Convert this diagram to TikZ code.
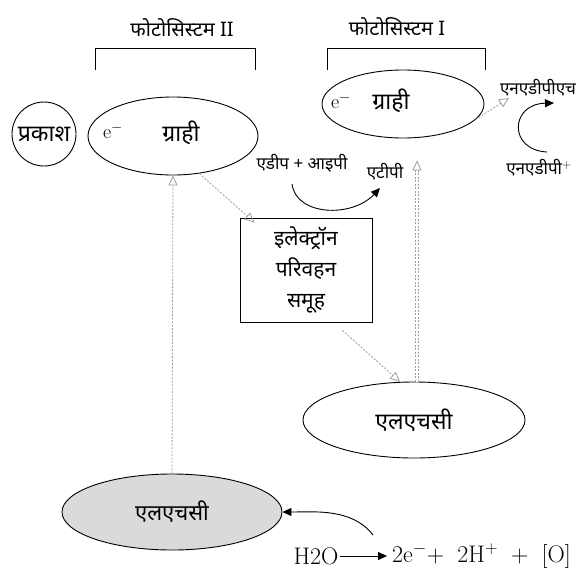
\documentclass[tikz,border=0pt]{standalone}
\usepackage{fontspec}
\usepackage{tikz}
\usetikzlibrary{arrows.meta,positioning,calc,shapes.geometric}
\newfontfamily\hindi[Script=Devanagari]{Noto Sans}
\definecolor{Faint}{HTML}{9C9C9C}
\definecolor{Shade}{HTML}{DADADA}

\begin{document}
\begin{tikzpicture}[x=1pt,y=-1pt,
  oval/.style={draw,ellipse,line width=0.9pt,inner sep=0pt},
  hi/.style={font=\hindi\fontsize{17}{19}\selectfont,inner sep=1pt},
  big/.style={font=\hindi\fontsize{23}{25}\selectfont,inner sep=1pt},
  latin/.style={font=\fontsize{24}{26}\selectfont,inner sep=1pt},
  solidarrow/.style={-{Triangle[length=9pt,width=8pt]},line width=0.9pt},
  faint/.style={draw=Faint,dash pattern=on 2pt off 1.5pt,line width=0.8pt,
    -{Triangle[open,length=10pt,width=9pt]}}]
  \useasboundingbox (0,0) rectangle (581,568);

  \node[hi,font=\hindi\fontsize{20}{22}\selectfont] (ps2title) at (182,28) {फोटोसिस्टम II};
  \node[hi,font=\hindi\fontsize{20}{22}\selectfont] (ps1title) at (397,27) {फोटोसिस्टम I};
  \draw[line width=0.9pt] (95,70) -- (95,48) -- (255,48) -- (255,70);
  \draw[line width=0.9pt] (327,70) -- (327,48) -- (485,48) -- (485,70);

  \node[draw,circle,line width=0.9pt,minimum size=64pt,inner sep=0pt,big] (light) at (44,134) {प्रकाश};
  \node[oval,minimum width=170pt,minimum height=78pt] (ps2) at (173,136) {};
  \node[font=\fontsize{20}{22}\selectfont] (ps2e) at (113,131) {e$^-$};
  \node[big] (ps2acc) at (181,133) {ग्राही};
  \node[oval,minimum width=162pt,minimum height=68pt] (ps1) at (403,104) {};
  \node[font=\fontsize{20}{22}\selectfont] (ps1e) at (341,101) {e$^-$};
  \node[big] (ps1acc) at (391,101) {ग्राही};

  \node[hi] (adp) at (302,163) {एडीप + आइपी};
  \node[hi] (atp) at (385,172) {एटीपी};
  \draw[solidarrow] (292,184) .. controls (296,216) and (352,218) .. (380,188);

  \node[hi] (nadph) at (538,88) {एनएडीपीएच};
  \node[hi] (nadp) at (539,168) {एनएडीपी$^+$};
  \draw[solidarrow] (547,152) .. controls (508,150) and (510,104) .. (554,103);
  \coordinate (nadphin) at (509,98);

  \node[draw,line width=0.9pt,minimum width=132pt,minimum height=104pt,
    align=center,font=\hindi\fontsize{21}{31}\selectfont,inner sep=1pt] (etc) at (306,270)
    {इलेक्ट्रॉन\\परिवहन\\समूह};

  \node[oval,minimum width=222pt,minimum height=76pt,big] (lhc1) at (414,420) {एलएचसी};
  \node[oval,fill=Shade,minimum width=220pt,minimum height=76pt,
    font=\hindi\bfseries\fontsize{22}{24}\selectfont] (lhc2) at (172,512) {एलएचसी};

  \node[latin] (water) at (316,556) {H2O};
  \node[latin,anchor=west] (prod) at (391,556)
    {2e$^-$+\hspace{0.55em}2H$^+$\hspace{0.55em}+\hspace{0.55em}[O]};
  \draw[solidarrow,line width=0.8pt,shorten >=4pt] (water) -- (prod);
  \coordinate (split) at (373,535);
  \draw[solidarrow] (split) .. controls (352,508) and (315,512) .. (lhc2.east);

  \draw[faint] (lhc2.north) -- (ps2.south);
  \draw[faint] (ps2.-55) -- ([xshift=15pt,yshift=-5pt]etc.north west);
  \draw[faint] ([xshift=-30pt,yshift=-8pt]etc.south east) -- (lhc1.110);
  \draw[faint,double,double distance=1.6pt,shorten >=22pt] ([xshift=3pt]lhc1.north) -- ([xshift=3pt]lhc1.north |- ps1.south);
  \draw[faint] (ps1.-12) -- (nadphin);
\end{tikzpicture}
\end{document}
